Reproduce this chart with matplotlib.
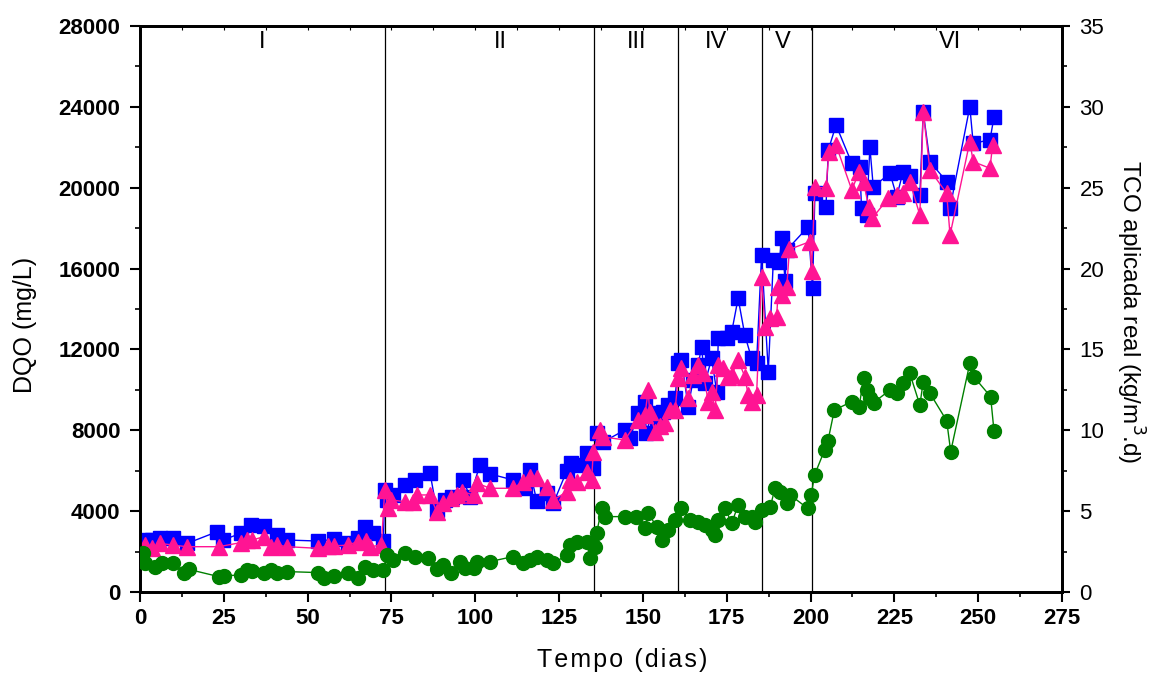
import matplotlib
matplotlib.use("Agg")
import matplotlib.pyplot as plt
from matplotlib.ticker import MultipleLocator

plt.rcParams["font.family"] = ["Liberation Sans", "DejaVu Sans"]

# ── dados ────────────────────────────────────────────────────────────────
# DQO (quadrados azuis)
azul_dias = [1.5, 3.5, 6, 10, 14, 23, 24.8, 30, 33, 37, 41, 44, 53, 58, 62, 65, 67, 69.6, 72.6,
             73, 73.6, 75.5, 79, 82, 86.5, 88.5, 91, 93, 96.4, 98.4, 101.4, 104.4, 111.3, 114.8,
             116.3, 118.3, 121.3, 123.3, 127.3, 128.7, 130.7, 133.2, 135.2, 136.2, 138.2, 144.6,
             146.1, 148.6, 150.6, 151, 152.6, 154.1, 156.1, 157.6, 159.6, 160.5, 161.5, 163.5, 165,
             166.5, 167.5, 168.5, 170.5, 172, 172.5, 175, 176.5, 178.4, 180.4, 182.4, 183.9, 185.4,
             187.4, 188.9, 190.7, 191.4, 192.4, 192.9, 199.3, 200.6, 201.3, 204.6, 205.3, 207.6,
             212.3, 214.7, 215.2, 216.7, 217.7, 218.7, 223.7, 225.7, 227.6, 229.6, 232.6, 233.6,
             235.6, 240.6, 241.6, 247.5, 248.5, 253.5, 254.7]
azul_dqo = [2570, 2570, 2650, 2650, 2400, 2980, 2570, 2900, 3310, 3260, 2820, 2570, 2520, 2600, 2400,
            2650, 3230, 2900, 2500, 5050, 4550, 4800, 5290, 5540, 5900, 4060, 4550, 4720, 5540, 4720,
            6280, 5840, 5540, 5130, 6030, 4520, 4880, 4390, 5990, 6370, 6290, 6860, 6120, 7850, 7430,
            8010, 7600, 8840, 9410, 7850, 8840, 8350, 8920, 9250, 9580, 11310, 11480, 9170, 10490,
            11230, 12140, 10320, 11560, 9910, 12550, 12550, 12880, 14530, 12710, 11560, 11310, 16670,
            10900, 16420, 16340, 17500, 15400, 16920, 18070, 15020, 19720, 19060, 21870, 23100,
            21210, 21040, 18990, 18650, 22000, 20050, 20710, 19560, 20790, 20580, 19640, 23760,
            21290, 20300, 18990, 24010, 22200, 22360, 23480]

# DQO (triângulos rosa)
rosa_dias = [1.5, 3.5, 6, 10, 14, 23.5, 30, 32, 33.5, 37, 39, 41, 44, 53, 56, 58, 62, 65, 67.5, 68.6,
             72, 73, 74, 75, 79, 81.5, 82.5, 86.5, 88.5, 90.5, 92.7, 94.6, 96, 99.6, 100.6, 104.4,
             111.3, 114.3, 116.3, 118.3, 121.3, 123.3, 127.3, 128.3, 130.3, 133.2, 134.7, 135.2,
             137.2, 138.2, 144.6, 148.6, 150.6, 151.6, 152, 153.6, 155, 156.6, 158, 159.6, 160.5,
             161.5, 163.5, 165, 166.5, 168, 169.5, 170.5, 171.5, 172.5, 174, 175.5, 176.5, 178.4,
             180.4, 181.4, 182.4, 183.9, 185.4, 186.4, 188, 189.9, 190.4, 191.4, 192.9, 193.7,
             199.8, 200.3, 201.3, 204.6, 205.5, 207.6, 212.3, 214.5, 215.8, 217.3, 218.4, 223.2,
             225.7, 227.6, 229.6, 232.6, 233.6, 235.6, 240.6, 241.6, 247.5, 248.5, 253.5, 254.3]
rosa_dqo = [2320, 2160, 2400, 2320, 2240, 2240, 2440, 2570, 2570, 2740, 2240, 2320, 2240, 2160, 2280,
            2280, 2320, 2490, 2540, 2240, 2320, 5050, 4140, 4550, 4470, 4470, 4800, 4800, 3970, 4390,
            4640, 4800, 4960, 4800, 5380, 5130, 5130, 5460, 5700, 5620, 5210, 4550, 4960, 5540, 5460,
            5950, 5540, 6940, 8010, 7670, 7520, 8510, 8760, 9990, 8920, 7930, 8190, 8350, 9000, 9000,
            10570, 11070, 9580, 10740, 11230, 10820, 9410, 9910, 9000, 11230, 11070, 10650, 10740,
            11480, 10650, 9750, 9410, 9750, 15600, 13120, 13540, 13620, 15100, 14690, 15070, 16950,
            17330, 15900, 20050, 19970, 21780, 22110, 19890, 20790, 20300, 19060, 18490, 19480,
            19640, 19720, 20300, 18650, 23760, 20880, 19720, 17660, 22280, 21290, 20960, 22110]

# TCO aplicada real (círculos verdes, eixo direito)
verde_dias = [1, 1.5, 4.5, 6.5, 10, 13, 14.5, 23.5, 25, 30, 32, 33.5, 37, 39, 41, 44, 53, 55, 58,
              62, 65, 67, 69.6, 72.6, 73.6, 75.6, 79, 82, 86, 88.5, 90.5, 92.7, 95.4, 97, 99.6,
              100.6, 104.4, 111.3, 114.3, 116.3, 118.3, 121.3, 123.3, 127.3, 128.3, 130.3, 133.2,
              134.2, 135.7, 136.2, 137.7, 138.7, 144.6, 148, 150.6, 151.6, 154.1, 155.6, 157.6,
              159.6, 161.5, 164, 166.5, 168.5, 170.5, 171.5, 172.5, 174.5, 176.5, 178.4, 180.4,
              182.4, 183.4, 185.4, 188, 189.4, 190.9, 192.9, 193.9, 199.1, 200.2, 201.2, 204.2,
              205.2, 207.1, 212.3, 214.5, 215.8, 216.8, 217.8, 218.8, 223.7, 225.7, 227.6, 229.6,
              232.6, 233.6, 235.6, 240.6, 241.8, 247.5, 248.7, 253.7, 254.7]
verde_tco = [2.39, 1.77, 1.57, 1.77, 1.81, 1.16, 1.40, 0.95, 1.0, 1.05, 1.36, 1.32, 1.20, 1.36, 1.20,
             1.26, 1.20, 0.85, 1.0, 1.16, 0.85, 1.57, 1.36, 1.36, 2.29, 1.98, 2.39, 2.19, 2.08, 1.40,
             1.67, 1.20, 1.88, 1.46, 1.46, 1.88, 1.88, 2.19, 1.77, 1.98, 2.19, 1.98, 1.77, 2.29, 2.91,
             3.11, 3.11, 2.08, 2.81, 3.63, 5.18, 4.66, 4.66, 4.66, 3.94, 4.87, 4.04, 3.22, 3.84, 4.45,
             5.18, 4.45, 4.35, 4.14, 3.84, 3.52, 4.45, 5.18, 4.25, 5.38, 4.66, 4.66, 4.35, 5.07, 5.28,
             6.41, 6.21, 5.49, 6.0, 5.18, 6.0, 7.24, 8.78, 9.36, 11.25, 11.77, 11.46, 13.21, 12.49,
             11.98, 11.71, 12.49, 12.29, 12.91, 13.52, 11.56, 13.0, 12.29, 10.59, 8.68, 14.14, 13.31,
             12.08, 9.98]

# fases
fase_limites = [73, 135.5, 160.5, 185.5, 200.5]
fase_nomes = ["I", "II", "III", "IV", "V", "VI"]
fase_pos = [36.5, 107.4, 148.2, 171.8, 191.8, 241.6]

AZUL = "#0000FF"
ROSA = "#FF1493"
VERDE = "#008000"

# ── figura ───────────────────────────────────────────────────────────────
fig = plt.figure(figsize=(11.5, 6.75), dpi=100)
ax = fig.add_axes([0.1217, 0.123, 0.8018, 0.8385])

ax.plot(azul_dias, azul_dqo, "-s", color=AZUL, lw=1, ms=9.5, zorder=3)
ax.plot(rosa_dias, rosa_dqo, "-^", color=ROSA, lw=1, ms=11.5, zorder=4)

for xv in fase_limites:
    ax.axvline(xv, color="black", lw=0.9, zorder=2)
for nome, xp in zip(fase_nomes, fase_pos):
    ax.text(xp, 27230, nome, ha="center", va="center", fontsize=17,
            family=["Liberation Sans Narrow", "Liberation Sans", "DejaVu Sans"])

ax.set_xlim(0, 275)
ax.set_ylim(0, 28000)
ax.xaxis.set_major_locator(MultipleLocator(25))
ax.xaxis.set_minor_locator(MultipleLocator(12.5))
ax.yaxis.set_major_locator(MultipleLocator(4000))
ax.yaxis.set_minor_locator(MultipleLocator(2000))
ax.tick_params(which="major", direction="out", length=7, width=1.5, labelsize=16)
ax.tick_params(axis="x", which="major", pad=4.5)
ax.tick_params(axis="y", which="major", pad=7)
ax.tick_params(which="minor", direction="out", length=3.5, width=1.2)
for s in ax.spines.values():
    s.set_linewidth(2)

top = ax.secondary_xaxis("top")
top.xaxis.set_major_locator(MultipleLocator(25))
top.xaxis.set_minor_locator(MultipleLocator(12.5))
top.tick_params(which="both", direction="in", length=3, width=0.8, labeltop=False)

ax2 = ax.twinx()
ax2.plot(verde_dias, verde_tco, "-o", color=VERDE, lw=1, ms=10, zorder=3)
ax2.set_ylim(0, 35)
ax2.yaxis.set_major_locator(MultipleLocator(5))
ax2.yaxis.set_minor_locator(MultipleLocator(2.5))
ax2.tick_params(which="major", direction="out", length=6, width=1.5, labelsize=16, pad=6.5)
ax2.tick_params(which="minor", direction="out", length=3.5, width=1.2)
for s in ax2.spines.values():
    s.set_linewidth(2)

# rótulos dos eixos
fig.text(25 / 1150, 1 - 325 / 675, "DQO (mg/L)", rotation=90, ha="center", va="center",
         fontsize=18)
fig.text(1130 / 1150, 1 - 312 / 675, "TCO aplicada real (kg/m$^3$.d)", rotation=270,
         ha="center", va="center", fontsize=17.5)
fig.text(622 / 1150, 1 - 660 / 675, "\u200a".join("Tempo (dias)"), ha="center", va="center",
         fontsize=18)

fig.canvas.draw()
for lab in ax.get_xticklabels() + ax.get_yticklabels():
    lab.set_fontweight("bold")

fig.savefig("out.png", dpi=100)
